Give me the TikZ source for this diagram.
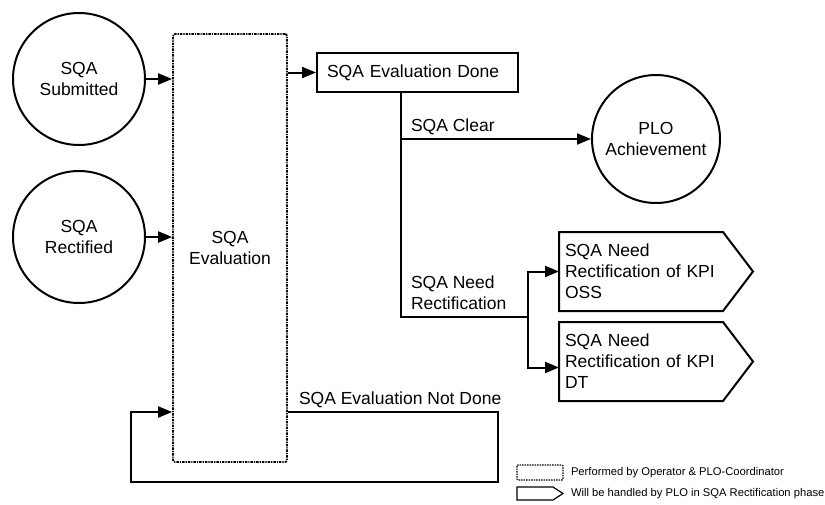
\documentclass[tikz,border=0pt]{standalone}
\usepackage{fontspec}
\setmainfont{Liberation Sans}
\usetikzlibrary{arrows.meta,calc}
\begin{document}
\begin{tikzpicture}[x=1pt,y=-1pt,
  font=\fontsize{17.5}{21}\selectfont,
  line width=2pt,
  arr/.style={-{Triangle[length=14pt,width=11pt]}},
  state/.style={circle,draw,line width=2pt,minimum size=132pt,inner sep=0pt,align=center},
  phase/.style={draw,line width=1.7pt,dash pattern=on 2.5pt off 1pt on 1.2pt off 1pt,rounded corners=2pt},
  lbl/.style={anchor=west,inner sep=0pt,align=left},
  pentext/.style={minimum width=162pt,minimum height=77pt,text width=152pt,inner xsep=5pt,align=left},
  legend/.style={font=\fontsize{11.2}{13}\selectfont,anchor=west,inner sep=0pt}
]
\fill[white] (0,0) rectangle (825,504);
\useasboundingbox (0,0) rectangle (825,504);

% states
\node[state] (sub) at (79,79) {SQA\\Submitted};
\node[state] (rect) at (79,237) {SQA\\Rectified};
\node[state,minimum size=128pt] (plo) at (656,139) {PLO\\Achievement};

% evaluation phase
\node[phase,minimum width=114pt,minimum height=428pt,align=center] (eval) at (230,248) {SQA\\Evaluation};

% done box
\node[draw,anchor=west,minimum height=39pt,text width=181pt,inner xsep=10pt,align=left] (done) at (316,72.5) {SQA Evaluation Done};

% rectification boxes
\node[pentext] (need1) at (641,271.5) {SQA Need\\Rectification of KPI\\OSS};
\node[pentext] (need2) at (641,361.5) {SQA Need\\Rectification of KPI\\DT};
\foreach \n in {need1,need2}{
  \draw (\n.north west) -- (\n.north east) -- ($(\n.east)+(30,0)$) -- (\n.south east) -- (\n.south west) -- cycle;
}

% connectors
\draw[arr] (sub.east) -- (sub.east -| eval.west);
\draw[arr] (rect.east) -- (rect.east -| eval.west);
\draw[arr] (done.west -| eval.east) -- (done.west);

\path (done.south) ++(-16.5,0) coordinate (ttop);
\coordinate (fork) at (528,317);
\draw (ttop) |- (fork);
\draw[arr] (ttop |- plo.west) -- (plo.west);
\draw[arr] (fork) |- (need1.west);
\draw[arr] (fork) |- ([yshift=-6pt]need2.west);

\coordinate (ne) at (498,482);
\coordinate (sw) at (131,412);
\draw[arr] (eval.east |- sw) -| (ne) -| (sw) -- (sw -| eval.west);

% labels
\node[lbl] (lclear) at (410,127) {SQA Clear};
\node[lbl] (lneed) at (410,293) {SQA Need\\Rectification};
\node[lbl] (lnot) at (298,400) {SQA Evaluation Not Done};

% legend
\draw[line width=1.2pt,dash pattern=on 1.5pt off 1pt,rounded corners=1pt] (517,465) rectangle (563,480);
\draw[line width=1.2pt] (517,487) -- (553,487) -- (563,493.5) -- (553,500) -- (517,500) -- cycle;
\node[legend] (leg1) at (570,472.5) {Performed by Operator \& PLO-Coordinator};
\node[legend] (leg2) at (570,494) {Will be handled by PLO in SQA Rectification phase};
\end{tikzpicture}
\end{document}
